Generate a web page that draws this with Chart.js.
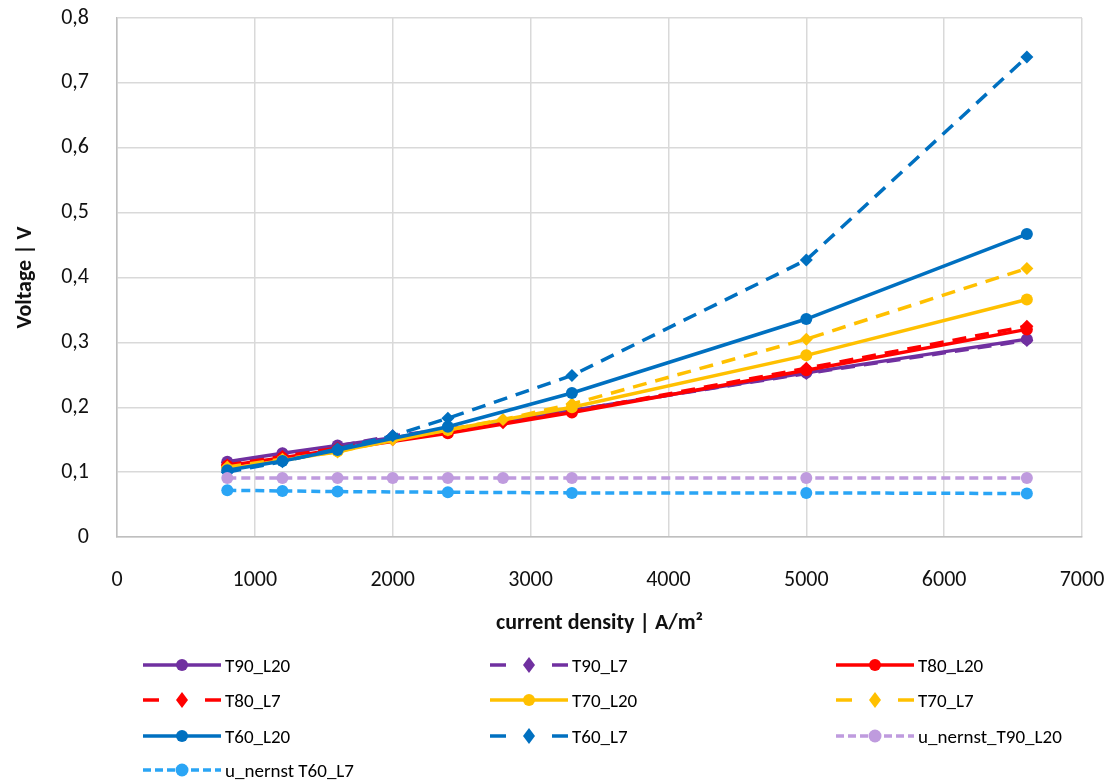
<!DOCTYPE html>
<html>
<head>
<meta charset="utf-8">
<script src="https://cdn.jsdelivr.net/npm/chart.js@4.4.1/dist/chart.umd.min.js"></script>
<style>
  body { margin: 0; background: #fff; font-family: Carlito, "Liberation Sans Narrow", "Open Sans", sans-serif; }
  #wrap { position: relative; width: 1117px; height: 784px; }
  #chart { position: absolute; left: 0; top: 0; }
  #legend { position: absolute; left: 0; top: 0; width: 1117px; height: 784px; pointer-events: none; }
  .item { position: absolute; display: flex; align-items: center; height: 24px; font-size: 19px; color: #000; white-space: nowrap; }
  .item svg { margin-right: 4px; }
</style>
</head>
<body>
<div id="wrap">
  <canvas id="chart" width="1117" height="645"></canvas>
  <div id="legend"></div>
</div>
<script>
// x values (A/m²)
const xL20 = [800, 1200, 1600, 2400, 3300, 5000, 6600];
const xL7 = [800, 1200, 1600, 2000, 2400, 2800, 3300, 5000, 6600];
const xT60L7 = [800, 1200, 1600, 2000, 2400, 3300, 5000, 6600];
const xNernst90 = [800, 1200, 1600, 2000, 2400, 2800, 3300, 5000, 6600];
const xNernst60 = [800, 1200, 1600, 2400, 3300, 5000, 6600];

// voltages (V)
const t90L20 = [0.116, 0.129, 0.141, 0.165, 0.195, 0.253, 0.305];
const t90L7 = [0.115, 0.128, 0.140, 0.156, 0.166, 0.178, 0.195, 0.252, 0.303];
const t80L20 = [0.110, 0.122, 0.135, 0.160, 0.192, 0.257, 0.320];
const t80L7 = [0.111, 0.124, 0.137, 0.150, 0.161, 0.176, 0.193, 0.260, 0.325];
const t70L20 = [0.105, 0.118, 0.132, 0.165, 0.200, 0.280, 0.366];
const t70L7 = [0.108, 0.120, 0.131, 0.150, 0.165, 0.181, 0.205, 0.305, 0.414];
const t60L20 = [0.103, 0.117, 0.134, 0.170, 0.222, 0.336, 0.467];
const t60L7 = [0.100, 0.116, 0.136, 0.156, 0.183, 0.249, 0.427, 0.740];
const nernst90 = [0.091, 0.091, 0.091, 0.091, 0.091, 0.091, 0.091, 0.091, 0.091];
const nernst60 = [0.072, 0.071, 0.070, 0.069, 0.068, 0.068, 0.067];

const xTicks = [0, 1000, 2000, 3000, 4000, 5000, 6000, 7000];
const yTicks = [0, 0.1, 0.2, 0.3, 0.4, 0.5, 0.6, 0.7, 0.8];

const PURPLE = '#7030A0', RED = '#FF0000', YELLOW = '#FFC000', BLUE = '#0070C0';
const LAVENDER = '#BF9BDE', SKY = '#2AA5F5';

const seriesDefs = [
  { label: 'T90_L20', xs: xL20, ys: t90L20, color: PURPLE, kind: 'solid' },
  { label: 'T90_L7', xs: xL7, ys: t90L7, color: PURPLE, kind: 'dash' },
  { label: 'T80_L20', xs: xL20, ys: t80L20, color: RED, kind: 'solid' },
  { label: 'T80_L7', xs: xL7, ys: t80L7, color: RED, kind: 'dash' },
  { label: 'T70_L20', xs: xL20, ys: t70L20, color: YELLOW, kind: 'solid' },
  { label: 'T70_L7', xs: xL7, ys: t70L7, color: YELLOW, kind: 'dash' },
  { label: 'T60_L20', xs: xL20, ys: t60L20, color: BLUE, kind: 'solid' },
  { label: 'T60_L7', xs: xT60L7, ys: t60L7, color: BLUE, kind: 'dash' },
  { label: 'u_nernst_T90_L20', xs: xNernst90, ys: nernst90, color: LAVENDER, kind: 'dot' },
  { label: 'u_nernst T60_L7', xs: xNernst60, ys: nernst60, color: SKY, kind: 'dot' }
];

const datasets = seriesDefs.map((s, i) => ({
  label: s.label,
  data: s.xs.map((x, j) => ({ x: x, y: s.ys[j] })),
  borderColor: s.color,
  backgroundColor: s.color,
  borderWidth: 3.5,
  borderDash: s.kind === 'dash' ? [14, 9] : (s.kind === 'dot' ? [9, 5] : []),
  pointStyle: s.kind === 'dash' ? 'rectRot' : 'circle',
  pointRadius: s.kind === 'dash' ? 6.5 : 6,
  pointBorderWidth: 0,
  tension: 0,
  order: 20 - i
}));

Chart.defaults.font.family = 'Carlito, "Liberation Sans Narrow", "Open Sans", sans-serif';
Chart.defaults.color = '#000';

const fmt = v => v === 0 ? '0' : v.toFixed(1).replace('.', ',');

new Chart(document.getElementById('chart'), {
  type: 'line',
  data: { datasets: datasets },
  options: {
    responsive: false,
    animation: false,
    layout: { autoPadding: false, padding: { top: 18, right: 35, left: 0, bottom: 0 } },
    plugins: { legend: { display: false }, tooltip: { enabled: false } },
    scales: {
      x: {
        type: 'linear', min: 0, max: 7000,
        afterBuildTicks: s => { s.ticks = xTicks.map(v => ({ value: v })); },
        afterFit: s => { s.height = 108; s.paddingLeft = 0; s.paddingRight = 0; },
        ticks: { font: { size: 22 }, padding: 30, maxRotation: 0, color: '#111', callback: v => String(v) },
        grid: { color: '#D9D9D9', lineWidth: 1.5, drawTicks: false },
        border: { color: '#BFBFBF', width: 1.5 },
        title: { display: true, text: 'current density | A/m²', font: { size: 22, weight: 'bold' }, padding: { top: 4, bottom: 8 }, color: '#111' }
      },
      y: {
        min: 0, max: 0.8,
        afterBuildTicks: s => { s.ticks = yTicks.map(v => ({ value: v })); },
        afterFit: s => { s.width = 117; s.paddingTop = 0; s.paddingBottom = 0; },
        ticks: { font: { size: 22 }, padding: 28, callback: v => fmt(v), color: '#111' },
        grid: { color: '#D9D9D9', lineWidth: 1.5, drawTicks: false },
        border: { color: '#BFBFBF', width: 1.5 },
        title: { display: true, text: 'Voltage | V', font: { size: 22, weight: 'bold' }, padding: { top: 12, bottom: 0 }, color: '#111' }
      }
    }
  }
});

// legend in three columns below the chart
const legendCols = [143, 490, 836];
const legendRows = [665, 700, 736, 770];
const legend = document.getElementById('legend');
seriesDefs.forEach((s, i) => {
  const col = i % 3, row = Math.floor(i / 3);
  const el = document.createElement('div');
  el.className = 'item';
  el.style.left = legendCols[col] + 'px';
  el.style.top = (legendRows[row] - 12) + 'px';
  let line = '';
  if (s.kind === 'solid') {
    line = `<line x1="0" y1="12" x2="78" y2="12" stroke="${s.color}" stroke-width="3.5"/>` +
           `<circle cx="39" cy="12" r="6" fill="${s.color}"/>`;
  } else if (s.kind === 'dash') {
    line = `<line x1="0" y1="12" x2="16" y2="12" stroke="${s.color}" stroke-width="3.5"/>` +
           `<line x1="62" y1="12" x2="78" y2="12" stroke="${s.color}" stroke-width="3.5"/>` +
           `<polygon points="39,4 45,12 39,20 33,12" fill="${s.color}"/>`;
  } else {
    line = `<line x1="0" y1="12" x2="78" y2="12" stroke="${s.color}" stroke-width="3.5" stroke-dasharray="8,4"/>` +
           `<circle cx="39" cy="12" r="6.5" fill="${s.color}"/>`;
  }
  el.innerHTML = `<svg width="78" height="24">${line}</svg><span>${s.label}</span>`;
  legend.appendChild(el);
});
</script>
</body>
</html>
